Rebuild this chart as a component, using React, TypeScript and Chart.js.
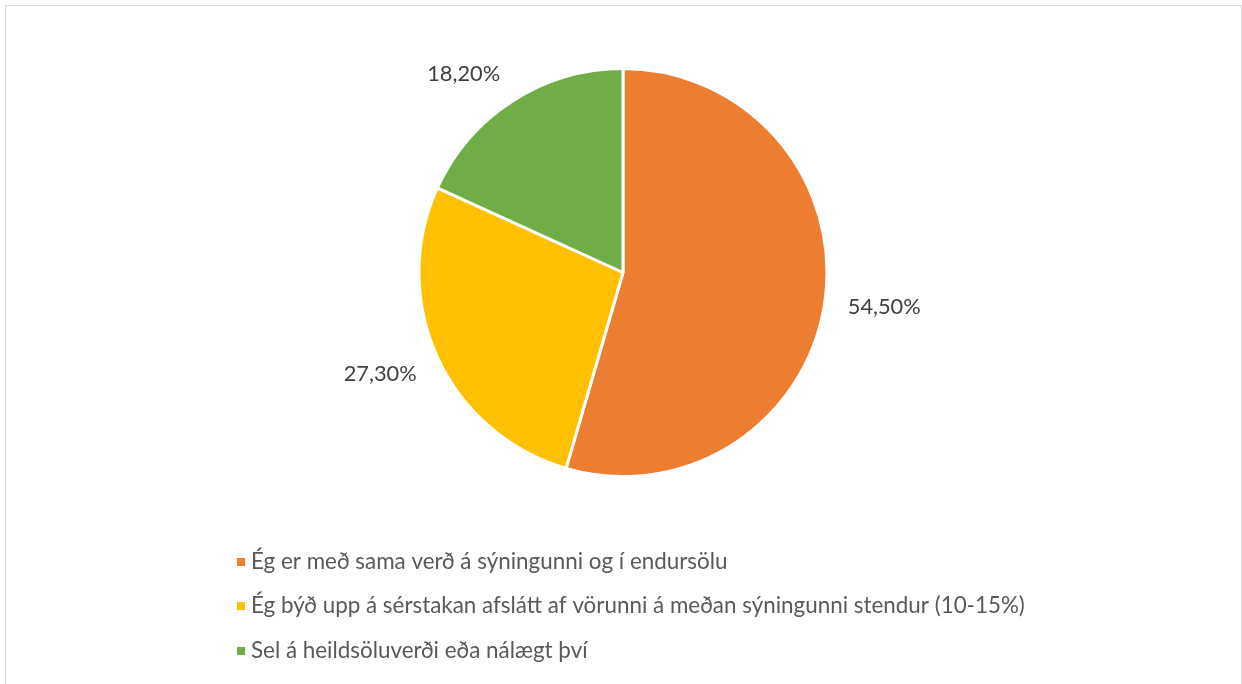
import React, { useEffect, useRef } from "react";
import { Chart, registerables } from "chart.js";

Chart.register(...registerables);

const categories: string[] = [
  "Ég er með sama verð á sýningunni og í endursölu",
  "Ég býð upp á sérstakan afslátt af vörunni á meðan sýningunni stendur (10-15%)",
  "Sel á heildsöluverði eða nálægt því",
];
const values: number[] = [54.5, 27.3, 18.2];
const valueLabels: string[] = ["54,50%", "27,30%", "18,20%"];
const colors: string[] = ["#ED7D31", "#FFC000", "#70AD47"];

const FONT = "Lato, 'Open Sans', sans-serif";
const TEXT_COLOR = "#595959";

const clamp = (v: number) => Math.max(-1, Math.min(1, v));

const decorPlugin = {
  id: "decor",
  beforeDraw(chart: any) {
    const ctx = chart.ctx;
    ctx.save();
    ctx.fillStyle = "#ffffff";
    ctx.fillRect(0, 0, chart.width, chart.height);
    ctx.strokeStyle = "#d9d9d9";
    ctx.lineWidth = 1;
    ctx.strokeRect(5.5, 5.5, chart.width - 6, chart.height + 10);
    ctx.restore();
  },
  afterDraw(chart: any) {
    const ctx = chart.ctx;
    const meta = chart.getDatasetMeta(0);
    ctx.save();
    ctx.font = `21.8px ${FONT}`;
    ctx.fillStyle = "#404040";
    ctx.textAlign = "center";
    ctx.textBaseline = "middle";
    const h = 16;
    meta.data.forEach((arc: any, i: number) => {
      const p = arc.getProps(["x", "y", "startAngle", "endAngle", "outerRadius"], true);
      const mid = (p.startAngle + p.endAngle) / 2;
      const ux = Math.cos(mid);
      const uy = Math.sin(mid);
      const r = p.outerRadius + 23;
      const w = ctx.measureText(valueLabels[i]).width;
      const cx = p.x + ux * r + (w / 2) * clamp(ux * 2);
      const cy = p.y + uy * r + (h / 2) * clamp(uy * 2);
      ctx.fillText(valueLabels[i], cx, cy);
    });
    // legend
    ctx.textAlign = "left";
    ctx.font = `22.4px ${FONT}`;
    const ys = [562, 606, 651];
    categories.forEach((c, i) => {
      ctx.fillStyle = colors[i];
      ctx.fillRect(237, ys[i] - 4, 8, 8);
      ctx.fillStyle = TEXT_COLOR;
      ctx.fillText(c, 251, ys[i]);
    });
    ctx.restore();
  },
};

export default function App() {
  const ref = useRef<HTMLCanvasElement | null>(null);
  useEffect(() => {
    if (!ref.current) return;
    const chart = new Chart(ref.current, {
      type: "pie",
      data: {
        labels: categories,
        datasets: [
          {
            data: values,
            backgroundColor: colors,
            borderColor: "#ffffff",
            borderWidth: 3,
          },
        ],
      },
      options: {
        responsive: false,
        animation: false,
        layout: { padding: { top: 67, bottom: 206, left: 4, right: 0 } },
        plugins: {
          legend: { display: false },
          tooltip: { enabled: false },
        },
      },
      plugins: [decorPlugin],
    });
    return () => chart.destroy();
  }, []);
  return (
    <div style={{ position: "fixed", left: 0, top: 0, width: 1242, height: 684, background: "#fff" }}>
      <canvas ref={ref} width={1242} height={684} />
    </div>
  );
}
